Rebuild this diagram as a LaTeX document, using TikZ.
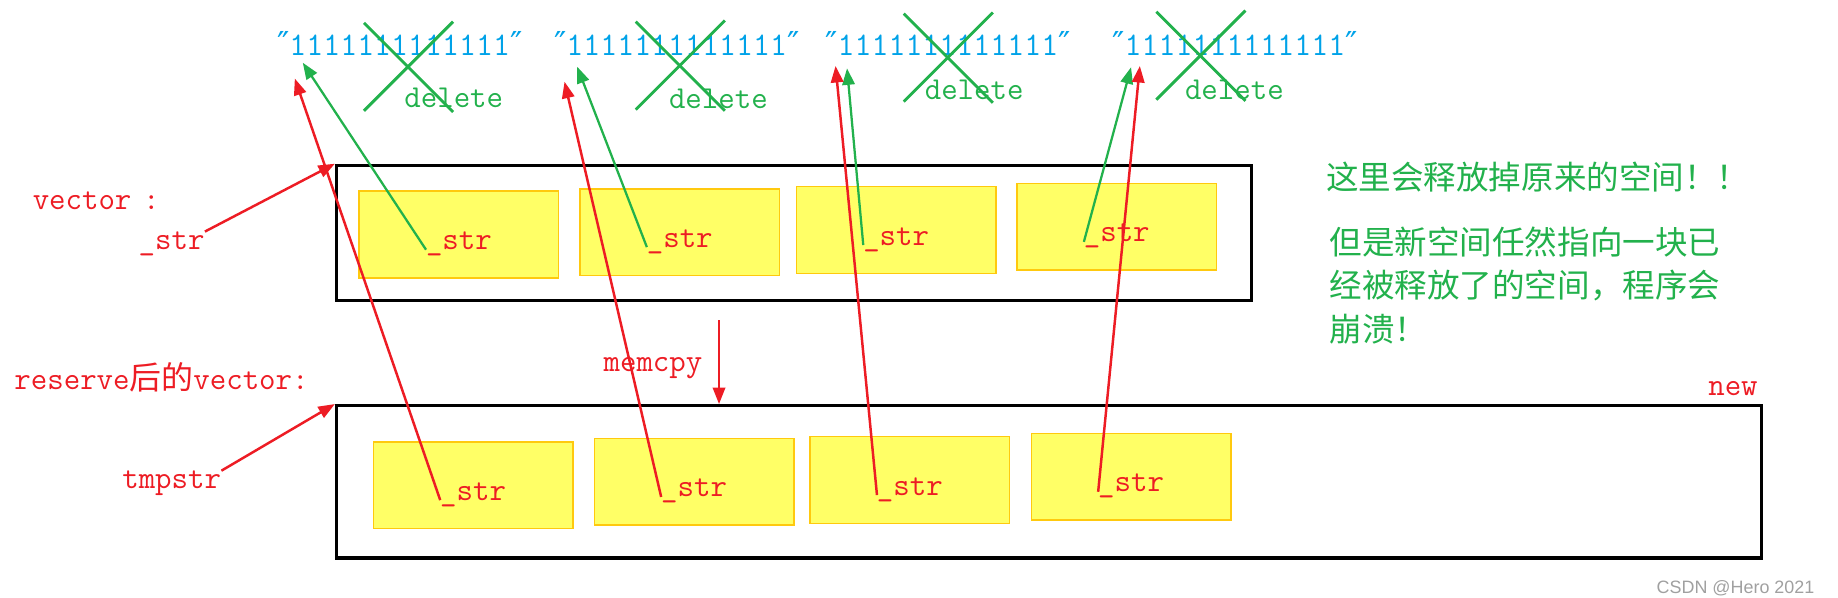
\documentclass[tikz,border=0pt]{standalone}
\usepackage{fontspec}
\newfontfamily\cjk{Noto Sans CJK SC}
\newfontfamily\qfont{DejaVu Sans}
\newfontfamily\wmfont{Liberation Sans}
\definecolor{pred}{RGB}{237,28,36}
\definecolor{pgreen}{RGB}{34,177,76}
\definecolor{pblue}{RGB}{0,162,232}
\definecolor{pyellow}{RGB}{255,255,102}
\definecolor{pgold}{RGB}{255,201,14}
\definecolor{wmgray}{RGB}{160,160,160}
\usetikzlibrary{arrows.meta,positioning}

\begin{document}
\begin{tikzpicture}[x=0.2mm, y=-0.2mm,
  txt/.style={font=\fontsize{15.5}{18}\selectfont\ttfamily, inner sep=0pt, anchor=base west},
  heap/.style={txt, font=\fontsize{16}{18}\selectfont\ttfamily, text=pblue},
  zh/.style={font=\fontsize{15.8}{20}\selectfont\cjk, inner sep=0pt, anchor=base west, text=pgreen},
  cell/.style={draw=pgold, line width=0.8pt, fill=pyellow, minimum width=34mm,
    minimum height=14.8mm, inner sep=0pt, text height=14.6pt, text depth=0pt,
    font=\fontsize{15.5}{18}\selectfont\ttfamily, text=pred},
  vecbox/.style={draw=black, line width=1.5pt, inner sep=0pt},
  redarr/.style={pred, line width=1.2pt, -{Triangle[length=8pt,width=6pt]}},
  greenarr/.style={pgreen, line width=1.1pt, -{Triangle[length=8pt,width=6pt]}},
  cross/.style={pgreen, line width=1.4pt}]

\useasboundingbox (0,0) rectangle (1568,510);

% --- old and new vector storage ---
\node[vecbox, minimum width=156.2mm, minimum height=23mm] (oldv) at (677.5,198.5) {};
\node[vecbox, minimum width=243.2mm, minimum height=26mm] (newv) at (895,411) {};

% --- _str cells ---
\node[cell] (t1) at (391.5,200.2) {\_str};
\node[cell] (t2) at (579.9,198) {\_str};
\node[cell] (t3) at (764.5,196.2) {\_str};
\node[cell] (t4) at (952.7,193.5) {\_str};
\node[cell] (b1) at (403.6,413.8) {\_str};
\node[cell] (b2) at (592.1,411.1) {\_str};
\node[cell] (b3) at (776.2,409.5) {\_str};
\node[cell] (b4) at (964.9,406.7) {\_str};

% --- strings on the heap ---
\node[heap] (s1) at (236,47.5) {{\qfont ″}1111111111111{\qfont ″}};
\node[heap] (s2) at (472.3,47.5) {{\qfont ″}1111111111111{\qfont ″}};
\node[heap] (s3) at (703.7,47.5) {{\qfont ″}1111111111111{\qfont ″}};
\node[heap] (s4) at (948.6,47.5) {{\qfont ″}1111111111111{\qfont ″}};

\node[txt, text=pgreen] (d1) at (344.7,91.6) {delete};
\node[txt, text=pgreen] (d2) at (570.4,92.4) {delete};
\node[txt, text=pgreen] (d3) at (788.6,84.5) {delete};
\node[txt, text=pgreen] (d4) at (1010.6,84.5) {delete};

% crosses
\foreach \cx/\cy in {348.5/57.5, 580.4/56.5, 809/49.7, 1024.5/48} {
  \draw[cross] ({\cx-38},{\cy-38}) -- ({\cx+38},{\cy+38});
  \draw[cross] ({\cx+38},{\cy-39}) -- ({\cx-38},{\cy+37});
}

% --- labels ---
\node[txt, text=pred] (vlbl) at (27.6,178.5) {vector\hspace{2mm}:};
\node[txt, text=pred] (vs) at (118,213) {\_str};
\node[txt, text=pred] (rlbl) at (12,332) {reserve{\cjk 后的}vector:};
\node[txt, text=pred] (tn) at (104,417) {tmpstr};
\node[txt, text=pred] (mtxt) at (514.6,316.5) {memcpy};
\node[txt, text=pred] (nlbl) at (1457,337) {new};

\node[zh] (note1) at (1131,162) {这里会释放掉原来的空间！！};
\node[zh] (note2) at (1134,217) {但是新空间任然指向一块已};
\node[zh] (note3) at (1134,254) {经被释放了的空间，程序会};
\node[zh] (note4) at (1134,291) {崩溃！};

\node[inner sep=0pt, anchor=base west, text=wmgray, font=\fontsize{8.7}{10}\selectfont\wmfont]
  (wm) at (1413,506) {CSDN @Hero 2021};

% --- arrow ends ---
\coordinate (g1) at (258.3,53.5);
\coordinate (g2) at (492.4,56.9);
\coordinate (g3) at (722.6,58.3);
\coordinate (g4) at (964.9,57.4);
\coordinate (r1) at (251.5,67);
\coordinate (r2) at (481.6,69.7);
\coordinate (r3) at (712.8,56.3);
\coordinate (r4) at (972.4,56.3);
\coordinate (mc) at (613.4,273);

% --- pointers ---
\foreach \i in {1,...,4} {
  \draw[greenarr] (t\i.text) -- (g\i);
  \draw[redarr] (b\i.text) -- (r\i);
}
\draw[redarr] (vs.north east) -- (oldv.north west);
\draw[redarr] (tn.north east) -- (newv.north west);
\draw[redarr] (mc) -- (mc |- newv.north);

\end{tikzpicture}
\end{document}
